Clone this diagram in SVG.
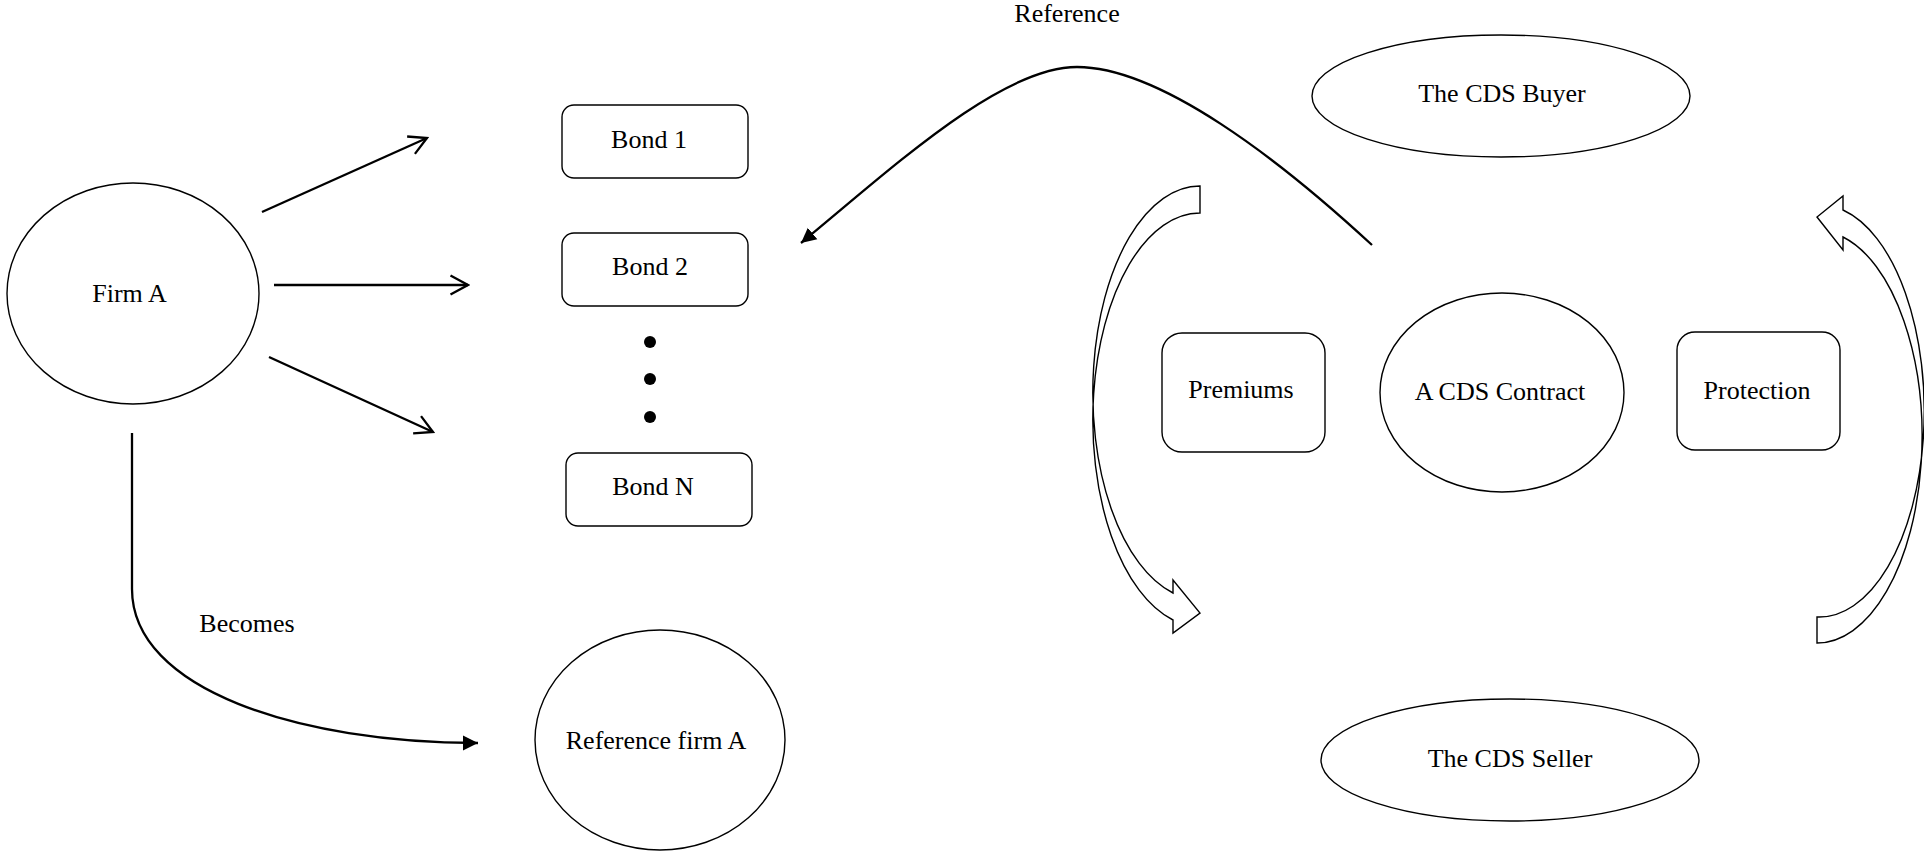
<svg xmlns="http://www.w3.org/2000/svg" width="1924" height="851" viewBox="0 0 1924 851">
<style>
.shape{fill:#fff;stroke:#000;stroke-width:1.4}
.conn{fill:none;stroke:#000;stroke-width:2.3}
.lbl{font-family:"Liberation Serif","Times New Roman",serif;font-size:26px;fill:#000;text-anchor:middle}
</style>
<defs>
<marker id="open" viewBox="0 0 22 22" refX="20" refY="11" markerWidth="22" markerHeight="22" markerUnits="userSpaceOnUse" orient="auto">
<path d="M2.5,1.5 L20,11 L2.5,20.5" fill="none" stroke="#000" stroke-width="2.3"/>
</marker>
<marker id="solid" viewBox="0 0 16 16" refX="15" refY="8" markerWidth="16" markerHeight="16" markerUnits="userSpaceOnUse" orient="auto">
<path d="M0,0.5 L15,8 L0,15.5 Z" fill="#000"/>
</marker>
</defs>
<rect width="1924" height="851" fill="#fff"/>

<g id="connectors">
<line class="conn" x1="262" y1="212" x2="427" y2="138" marker-end="url(#open)"/>
<line class="conn" x1="274" y1="285" x2="468" y2="285" marker-end="url(#open)"/>
<line class="conn" x1="269" y1="357" x2="433" y2="432" marker-end="url(#open)"/>
<path class="conn" d="M132,433 L132,589 C132,690 300,743 478,743" marker-end="url(#solid)"/>
<path class="conn" d="M1372,245 C1280,160 1160,67 1077,67 C1000,67 890,170 801,243" marker-end="url(#solid)"/>
</g>

<g id="label-becomes"><text class="lbl" x="247" y="632">Becomes</text></g>
<g id="label-reference"><text class="lbl" x="1067" y="22">Reference</text></g>

<g id="firm-a">
<ellipse class="shape" cx="133" cy="293.5" rx="126" ry="110.5"/>
<text class="lbl" x="129.5" y="302">Firm A</text>
</g>
<g id="bond-1">
<rect class="shape" x="562" y="105" width="186" height="73" rx="12" ry="12"/>
<text class="lbl" x="649" y="148">Bond 1</text>
</g>
<g id="bond-2">
<rect class="shape" x="562" y="233" width="186" height="73" rx="12" ry="12"/>
<text class="lbl" x="650" y="275">Bond 2</text>
</g>
<g id="dots">
<circle cx="650" cy="342" r="6" fill="#000"/>
<circle cx="650" cy="379" r="6" fill="#000"/>
<circle cx="650" cy="417" r="6" fill="#000"/>
</g>
<g id="bond-n">
<rect class="shape" x="566" y="453" width="186" height="73" rx="12" ry="12"/>
<text class="lbl" x="653" y="495">Bond N</text>
</g>
<g id="reference-firm-a">
<ellipse class="shape" cx="660" cy="740" rx="125" ry="110"/>
<text class="lbl" x="656" y="749">Reference firm A</text>
</g>
<g id="cds-buyer">
<ellipse class="shape" cx="1501" cy="96" rx="189" ry="61"/>
<text class="lbl" x="1502" y="102">The CDS Buyer</text>
</g>
<g id="premiums-arrow">
<path class="shape" d="M1200,186 A107,206.8 0 0,0 1173,593 L1173,580 L1200,613 L1173,633 L1173,620 A107,206.8 0 0,1 1200,213 Z"/>
</g>
<g id="premiums">
<rect class="shape" x="1162" y="333" width="163" height="119" rx="20" ry="20"/>
<text class="lbl" x="1241" y="398">Premiums</text>
</g>
<g id="cds-contract">
<ellipse class="shape" cx="1502" cy="392.5" rx="122" ry="99.5"/>
<text class="lbl" x="1500" y="400">A CDS Contract</text>
</g>
<g id="protection">
<rect class="shape" x="1677" y="332" width="163" height="118" rx="18" ry="18"/>
<text class="lbl" x="1757" y="399">Protection</text>
</g>
<g id="protection-arrow">
<path class="shape" d="M1817,643 A105,206.2 0 0,0 1843,237 L1843,250 L1817,217 L1843,196 L1843,210 A105,206.2 0 0,1 1817,617 Z"/>
</g>
<g id="cds-seller">
<ellipse class="shape" cx="1510" cy="760" rx="189" ry="61"/>
<text class="lbl" x="1510" y="767">The CDS Seller</text>
</g>
</svg>
